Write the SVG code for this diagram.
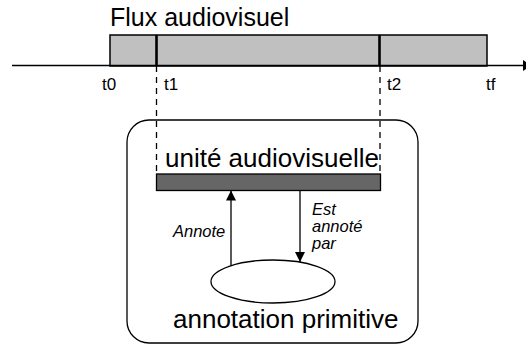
<svg xmlns="http://www.w3.org/2000/svg" width="526" height="346" viewBox="0 0 526 346">
<defs>
<style>
text{font-family:"Liberation Sans",Arial,sans-serif;fill:#000}
.big{font-size:25px}
.mid{font-size:26px}
.tick{font-size:17px}
.it{font-size:16.5px;font-style:italic}
.ln{stroke:#000;stroke-width:1.3;fill:none}
.dash{stroke:#000;stroke-width:1.3;stroke-dasharray:6,5;fill:none}
</style>
<marker id="ah" viewBox="0 0 10 10" refX="10" refY="5" markerWidth="10" markerHeight="10" markerUnits="userSpaceOnUse" orient="auto">
<path d="M0,0 L10,5 L0,10 Z" fill="#000"/>
</marker>
</defs>
<g id="flux">
<text class="big" x="110" y="26">Flux audiovisuel</text>
<rect x="110" y="35" width="377" height="31" fill="#c0c0c0" stroke="#000" stroke-width="1.5"/>
<line x1="12" y1="65.5" x2="524" y2="65.5" stroke="#000" stroke-width="1.6"/>
<polygon points="523,60 531,65.5 523,71" fill="#000"/>
<line x1="156.5" y1="35" x2="156.5" y2="66" stroke="#000" stroke-width="2.6"/>
<line x1="379.5" y1="35" x2="379.5" y2="66" stroke="#000" stroke-width="2.6"/>
<text class="tick" x="102" y="90">t0</text>
<text class="tick" x="164" y="90">t1</text>
<text class="tick" x="387" y="90">t2</text>
<text class="tick" x="486" y="90">tf</text>
</g>
<g id="container">
<rect x="127" y="120" width="291" height="223" rx="22" ry="22" fill="none" stroke="#000" stroke-width="1.3"/>
</g>
<g id="unite">
<text class="mid" x="165" y="167">unité audiovisuelle</text>
<rect x="156.5" y="174" width="224" height="16.5" fill="#666" stroke="#000" stroke-width="1.3"/>
</g>
<g id="annotation">
<ellipse cx="273" cy="281.5" rx="62" ry="21.5" fill="#fff" stroke="#000" stroke-width="1.3"/>
<text class="mid" x="173" y="328">annotation primitive</text>
</g>
<g id="connectors">
<line class="dash" x1="156.5" y1="66" x2="156.5" y2="174"/>
<line class="dash" x1="380" y1="66" x2="380" y2="174"/>
<line class="ln" x1="231" y1="266" x2="231" y2="190.5" marker-end="url(#ah)"/>
<line class="ln" x1="300" y1="190.5" x2="300" y2="262" marker-end="url(#ah)"/>
<text class="it" x="173" y="237">Annote</text>
<text class="it" x="312" y="215">Est</text>
<text class="it" x="312" y="232">annoté</text>
<text class="it" x="312" y="249">par</text>
</g>
</svg>
